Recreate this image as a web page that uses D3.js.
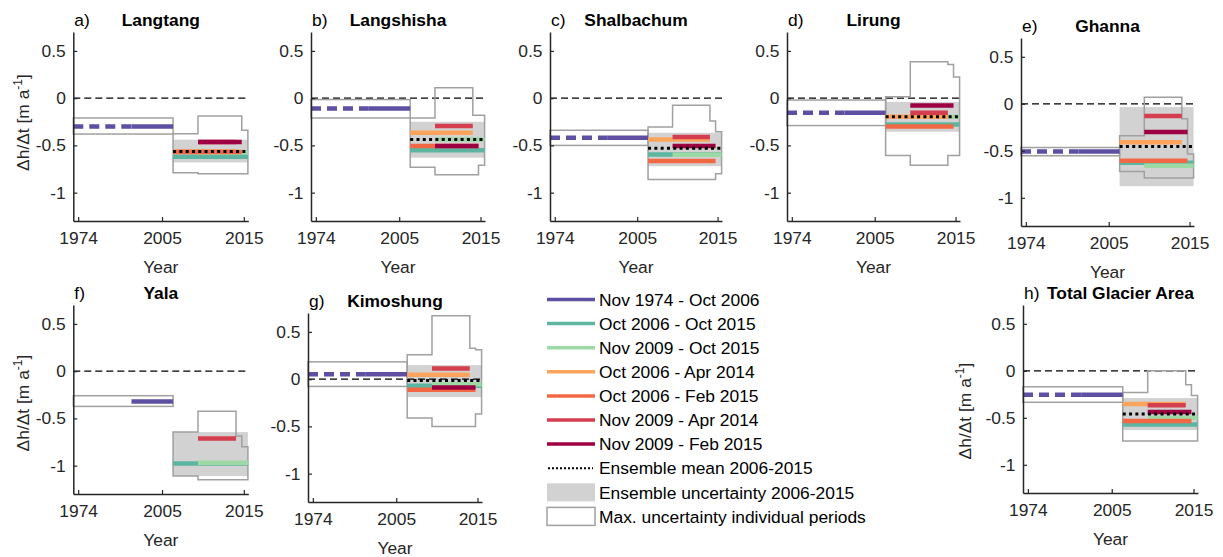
<!DOCTYPE html>
<html><head><meta charset="utf-8">
<script src="https://cdn.jsdelivr.net/npm/d3@7/dist/d3.min.js"></script>
<style>
body{margin:0;background:#fff}
text{font-family:"Liberation Sans",Arial,Helvetica,sans-serif}
</style>
</head><body>
<svg id="chart" width="1223" height="557"></svg>
<script>
// ---------------- DATA ----------------
const glaciers = ["Langtang","Langshisha","Shalbachum","Lirung","Ghanna","Yala","Kimoshung","Total Glacier Area"];
const panelLetters = ["a)","b)","c)","d)","e)","f)","g)","h)"];
const xTicks = [1974, 2005, 2015];
const yTicks = [0.5, 0, -0.5, -1];
const yTickLabels = ["0.5","0","-0.5","-1"];

const periodLabels = ["Nov 1974 - Oct 2006","Oct 2006 - Oct 2015","Nov 2009 - Oct 2015",
  "Oct 2006 - Apr 2014","Oct 2006 - Feb 2015","Nov 2009 - Apr 2014","Nov 2009 - Feb 2015"];
// period extents in axis-year units
const periodStart = [1972.2, 2006.35, 2009.4, 2006.35, 2006.35, 2009.4, 2009.4];
const periodEnd   = [2006.35, 2015.5, 2015.5, 2014.05, 2014.75, 2014.05, 2014.75];
const dashEnd = 1993.7;                       // purple line dashed up to here
const stepBreaks = [2006.35, 2009.4, 2014.05, 2014.75, 2015.5];

// elevation change rates [m a-1], one value per glacier
const nov1974_oct2006 = [-0.30, -0.11, -0.42, -0.155, -0.507, -0.32, 0.053, -0.254];
const oct2006_oct2015 = [-0.62, -0.55, -0.595, -0.278, -0.627, -0.976, -0.07, -0.57];
const nov2009_oct2015 = [-0.575, -0.437, -0.60, -0.197, -0.66, -0.97, -0.053, -0.50];
const oct2006_apr2014 = [-0.565, -0.366, -0.437, -0.197, -0.41, null, 0.046, -0.352];
const oct2006_feb2015 = [-0.57, -0.507, -0.665, -0.30, -0.606, null, -0.113, -0.535];
const nov2009_apr2014 = [-0.465, -0.296, -0.41, -0.155, -0.13, -0.714, 0.113, -0.366];
const nov2009_feb2015 = [-0.465, -0.507, -0.507, -0.077, -0.30, null, -0.088, -0.437];
const periodValues = [nov1974_oct2006, oct2006_oct2015, nov2009_oct2015, oct2006_apr2014,
  oct2006_feb2015, nov2009_apr2014, nov2009_feb2015];
const dashedVisible = [true, true, true, true, true, false, true, true];

const ensembleMean = [-0.565, -0.437, -0.53, -0.197, -0.454, null, -0.014, -0.46];
const ensembleHigh = [-0.44, -0.25, -0.366, -0.04, -0.035, -0.645, 0.148, -0.29];
const ensembleLow  = [-0.68, -0.63, -0.72, -0.356, -0.877, -1.11, -0.19, -0.63];

const firstBoxHigh = [-0.21, -0.015, -0.34, -0.02, -0.465, -0.26, 0.183, -0.17];
const firstBoxLow  = [-0.38, -0.21, -0.50, -0.29, -0.553, -0.373, -0.077, -0.335];

// max uncertainty envelope, 4 intervals between stepBreaks
const envelopeTop = [
  [-0.377, -0.19, -0.19, -0.34],
  [-0.21, 0.11, -0.18, -0.18],
  [-0.306, -0.074, -0.243, -0.356],
  [0.014, 0.384, 0.356, 0.225],
  [-0.34, 0.07, -0.16, -0.535],
  [-0.645, -0.425, -0.686, -0.80],
  [0.257, 0.67, 0.327, 0.31],
  [-0.23, 0.0, -0.148, -0.264]];
const envelopeBottom = [
  [-0.79, -0.80, -0.80, -0.80],
  [-0.73, -0.81, -0.81, -0.71],
  [-0.86, -0.86, -0.86, -0.80],
  [-0.606, -0.71, -0.606, -0.606],
  [-0.72, -0.79, -0.79, -0.79],
  [-1.11, -1.15, -1.15, -1.15],
  [-0.41, -0.50, -0.50, -0.37],
  [-0.746, -0.746, -0.746, -0.746]];

const legendExtra = ["Ensemble mean 2006-2015","Ensemble uncertainty 2006-2015","Max. uncertainty individual periods"];

// ---------------- STYLE / LAYOUT ----------------
const colors = ["#5e4fa2","#5cb5a1","#9dd9a5","#fca45c","#f26845","#d53e4f","#9e0142"];
const gridColor = "#a0a0a0", ensFill = "#d2d2d2", axisColor = "#262626";
const FS = 17.4;
const layout = [
  {l:73.3, t:32, w:175, h:189, ylab:{x:23, y:122.5}},
  {l:311, t:32, w:174, h:189},
  {l:550, t:32, w:172, h:189},
  {l:787, t:32, w:173, h:189},
  {l:1021, t:38, w:173, h:188},
  {l:73.3, t:305, w:175, h:189, ylab:{x:23, y:403}},
  {l:308, t:313, w:174, h:189},
  {l:1023, t:305, w:175, h:188, ylab:{x:965, y:411}, titleDx:10}
];

const svg = d3.select("#chart");
svg.append("rect").attr("width",1223).attr("height",557).attr("fill","#fff");

layout.forEach((L, gi) => {
  const g = svg.append("g").attr("transform", `translate(${L.l},${L.t})`);
  const x = d3.scaleLinear().domain([1972.2, 2005, 2015.55]).range([0, L.w*0.507, L.w]);
  const y = d3.scaleLinear().domain([-1.3, 0.7]).range([L.h, 0]);

  // ensemble uncertainty
  g.append("rect")
    .attr("x", x(stepBreaks[0])).attr("width", x(stepBreaks[4]) - x(stepBreaks[0]))
    .attr("y", y(ensembleHigh[gi])).attr("height", y(ensembleLow[gi]) - y(ensembleHigh[gi]))
    .attr("fill", ensFill);

  // zero line
  g.append("line").attr("x1", 0).attr("x2", L.w).attr("y1", y(0)).attr("y2", y(0))
    .attr("stroke", "#000").attr("stroke-width", 1.3).attr("stroke-dasharray", "7,4");

  // first period uncertainty box
  g.append("rect")
    .attr("x", x(periodStart[0])).attr("width", x(periodEnd[0]) - x(periodStart[0]))
    .attr("y", y(firstBoxHigh[gi])).attr("height", y(firstBoxLow[gi]) - y(firstBoxHigh[gi]))
    .attr("fill", "none").attr("stroke", gridColor).attr("stroke-width", 1.5);

  // envelope
  const top = envelopeTop[gi], bot = envelopeBottom[gi];
  const p = d3.path();
  p.moveTo(x(stepBreaks[0]), y(top[0]));
  for (let i = 0; i < 4; i++) {
    p.lineTo(x(stepBreaks[i]), y(top[i]));
    p.lineTo(x(stepBreaks[i+1]), y(top[i]));
  }
  for (let i = 3; i >= 0; i--) {
    p.lineTo(x(stepBreaks[i+1]), y(bot[i]));
    p.lineTo(x(stepBreaks[i]), y(bot[i]));
  }
  p.closePath();
  g.append("path").attr("d", p.toString()).attr("fill", "none")
    .attr("stroke", gridColor).attr("stroke-width", 1.5);

  // period lines
  periodValues.forEach((vals, pi) => {
    const v = vals[gi];
    if (v === null) return;
    if (pi === 0) {
      if (dashedVisible[gi]) {
        g.append("line").attr("x1", x(periodStart[0])).attr("x2", x(dashEnd))
          .attr("y1", y(v)).attr("y2", y(v)).attr("stroke", colors[0])
          .attr("stroke-width", 4.5).attr("stroke-dasharray", "10,6");
      }
      g.append("line").attr("x1", x(dashEnd)).attr("x2", x(periodEnd[0]))
        .attr("y1", y(v)).attr("y2", y(v)).attr("stroke", colors[0]).attr("stroke-width", 4.5);
    } else {
      g.append("line").attr("x1", x(periodStart[pi])).attr("x2", x(periodEnd[pi]))
        .attr("y1", y(v)).attr("y2", y(v)).attr("stroke", colors[pi]).attr("stroke-width", 4.5);
    }
  });

  // ensemble mean
  if (ensembleMean[gi] !== null) {
    g.append("line").attr("x1", x(stepBreaks[0])).attr("x2", x(stepBreaks[4]))
      .attr("y1", y(ensembleMean[gi])).attr("y2", y(ensembleMean[gi]))
      .attr("stroke", "#000").attr("stroke-width", 3).attr("stroke-dasharray", "3,3.3");
  }

  // axes
  const yAxis = d3.axisLeft(y).tickValues(yTicks).tickFormat((d,i) => yTickLabels[i])
    .tickSizeInner(-4).tickSizeOuter(0).tickPadding(7.5);
  const ya = g.append("g").call(yAxis);
  const xAxis = d3.axisBottom(x).tickValues(xTicks).tickFormat(d3.format("d"))
    .tickSizeInner(-4).tickSizeOuter(0).tickPadding(11);
  const xa = g.append("g").attr("transform", `translate(0,${L.h})`).call(xAxis);
  [ya, xa].forEach(a => {
    a.select(".domain").attr("stroke", axisColor).attr("stroke-width", 1.5);
    a.selectAll(".tick line").attr("stroke", axisColor).attr("stroke-width", 1.2);
    a.selectAll(".tick text").attr("fill", axisColor).style("font-size", FS + "px")
      .style("font-family", '"Liberation Sans",Arial,sans-serif');
  });

  // x label
  g.append("text").attr("x", L.w/2).attr("y", L.h + 52).attr("text-anchor", "middle")
    .attr("fill", axisColor).style("font-size", FS + "px").text("Year");

  // titles
  g.append("text").attr("x", 1).attr("y", -6).attr("fill", "#000")
    .style("font-size", FS + "px").text(panelLetters[gi]);
  g.append("text").attr("x", L.w/2 + (L.titleDx || 0)).attr("y", -6).attr("text-anchor", "middle")
    .attr("fill", "#000").style("font-size", FS + "px").style("font-weight", "bold").text(glaciers[gi]);

  // y label
  if (L.ylab) {
    const t = svg.append("text")
      .attr("transform", `translate(${L.ylab.x},${L.ylab.y}) rotate(-90)`)
      .attr("text-anchor", "middle").attr("dy", "0.35em")
      .attr("fill", axisColor).style("font-size", FS + "px");
    t.append("tspan").text("\u0394h/\u0394t [m a");
    t.append("tspan").attr("dy", -7).style("font-size", "12px").text("-1");
    t.append("tspan").attr("dy", 7).text("]");
  }
});

// ---------------- LEGEND ----------------
const lg = svg.append("g");
const rowY = i => 299.5 + i * 24.1;
const lx0 = 547, lx1 = 595, ltx = 599;
periodLabels.forEach((lab, i) => {
  lg.append("line").attr("x1", lx0).attr("x2", lx1).attr("y1", rowY(i)).attr("y2", rowY(i))
    .attr("stroke", colors[i]).attr("stroke-width", 3.5);
  lg.append("text").attr("x", ltx).attr("y", rowY(i)).attr("dy", "0.36em")
    .style("font-size", FS + "px").attr("fill", "#000").text(lab);
});
lg.append("line").attr("x1", lx0 + 1).attr("x2", lx1 - 2).attr("y1", rowY(7)).attr("y2", rowY(7))
  .attr("stroke", "#000").attr("stroke-width", 2).attr("stroke-dasharray", "2,2");
lg.append("rect").attr("x", lx0).attr("y", rowY(8) - 9).attr("width", lx1 - lx0).attr("height", 18)
  .attr("fill", ensFill);
lg.append("rect").attr("x", lx0).attr("y", rowY(9) - 9).attr("width", lx1 - lx0).attr("height", 18)
  .attr("fill", "#fff").attr("stroke", gridColor).attr("stroke-width", 1.5);
legendExtra.forEach((lab, j) => {
  lg.append("text").attr("x", ltx).attr("y", rowY(7 + j)).attr("dy", "0.36em")
    .style("font-size", FS + "px").attr("fill", "#000").text(lab);
});
</script>
</body></html>
